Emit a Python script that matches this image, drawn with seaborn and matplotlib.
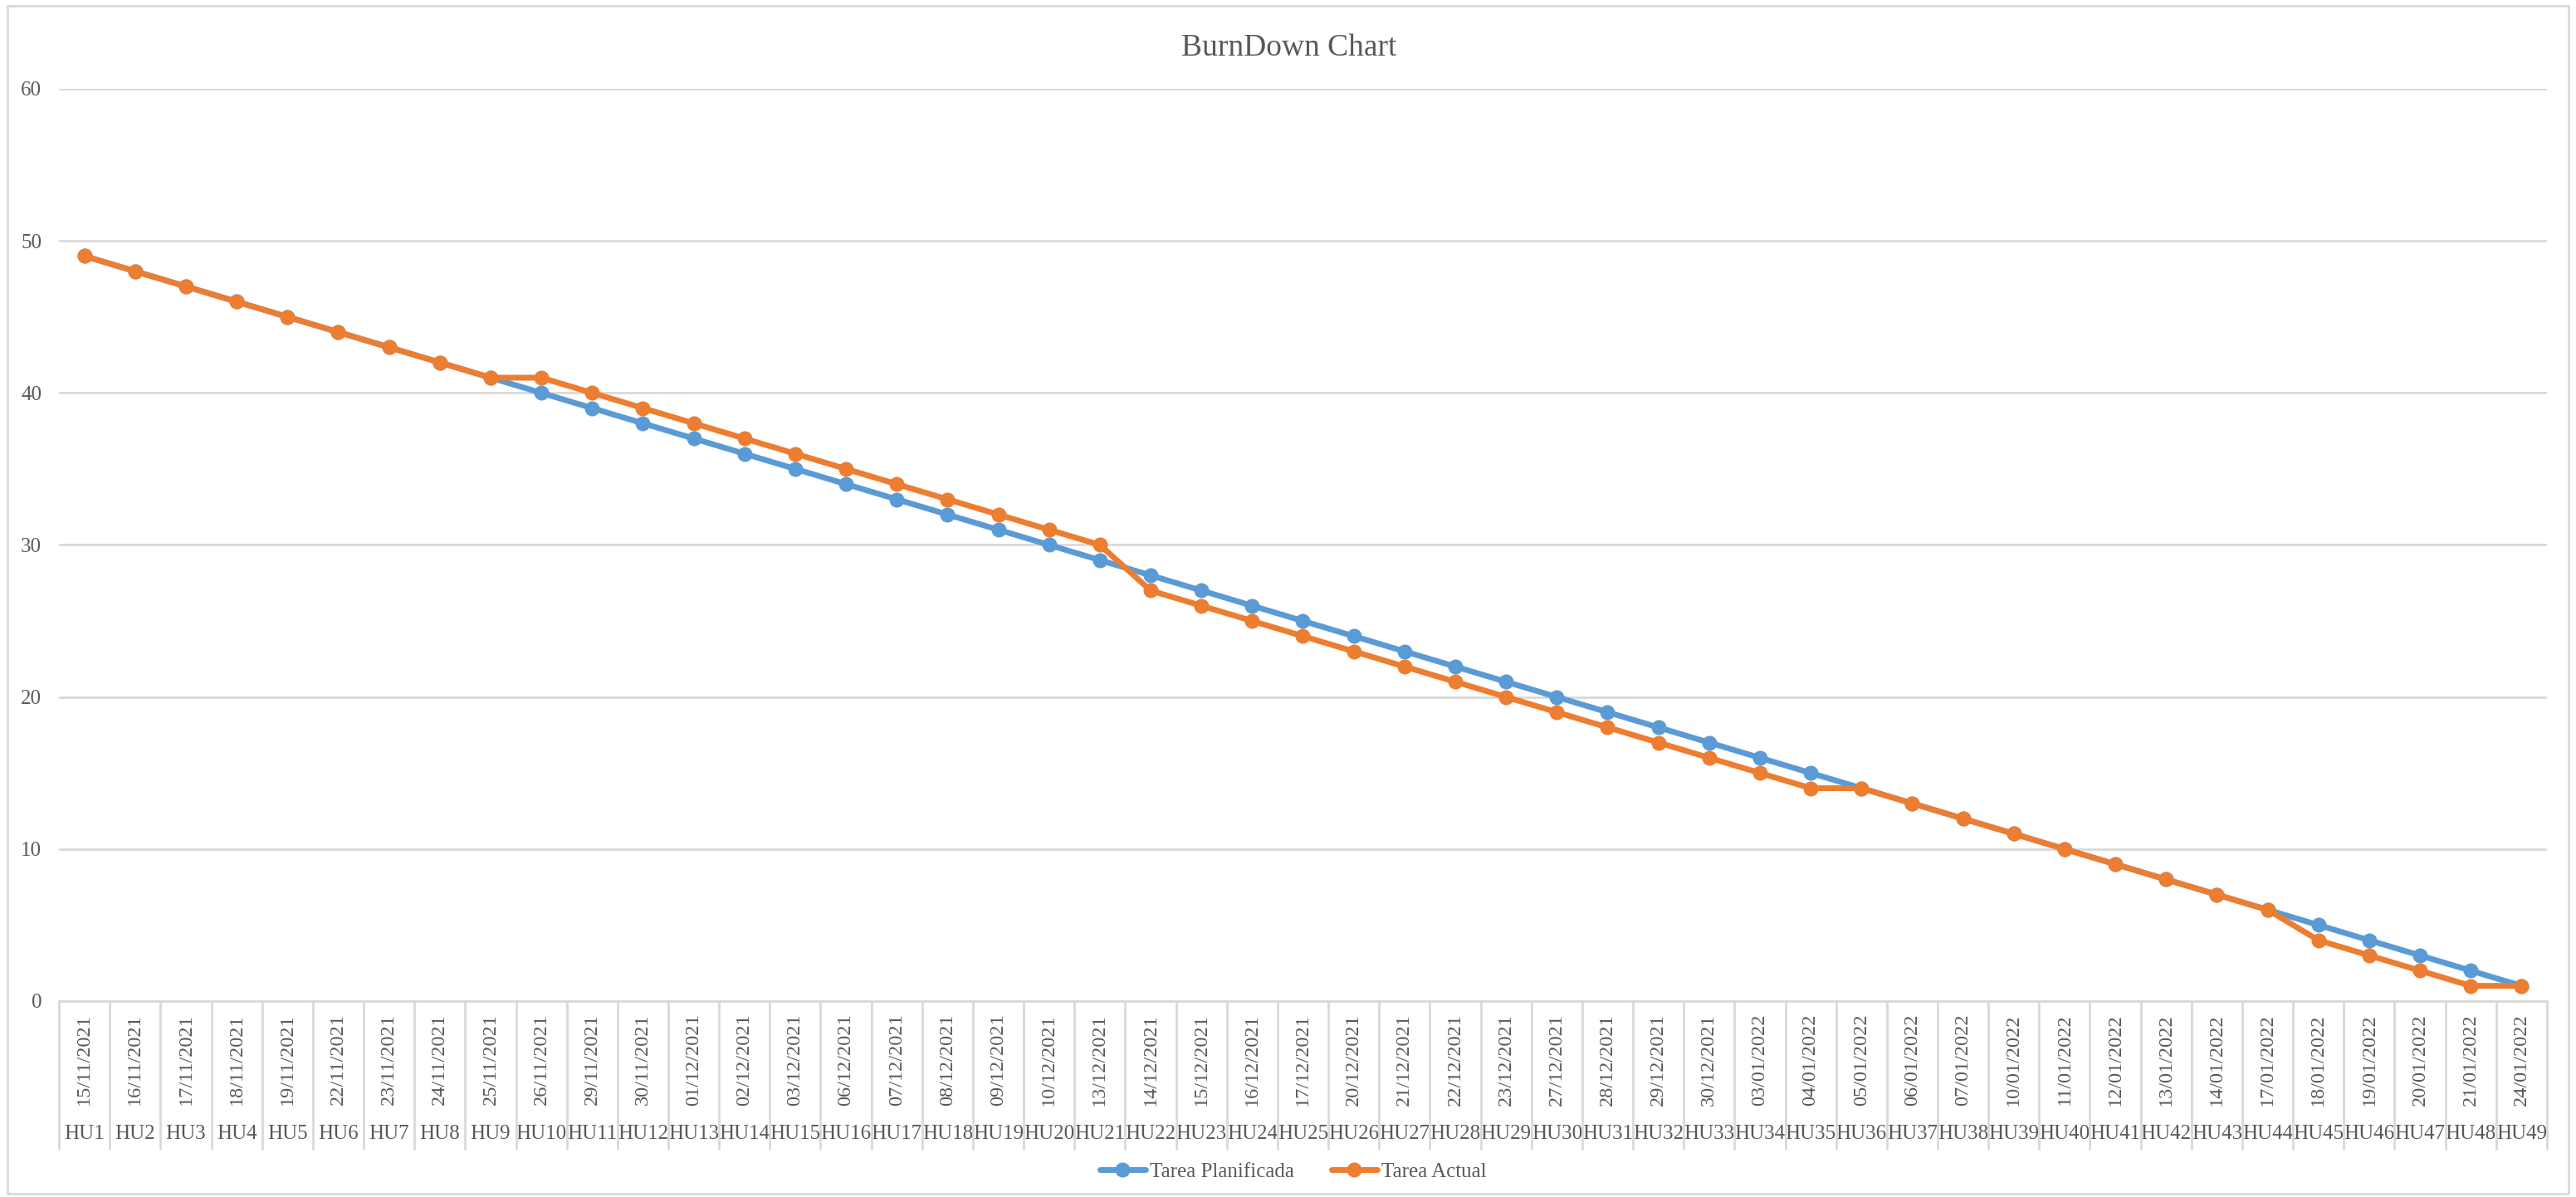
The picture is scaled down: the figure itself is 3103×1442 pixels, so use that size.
import numpy as np
import pandas as pd
import seaborn as sns
import matplotlib.pyplot as plt
from matplotlib.patches import Rectangle
from matplotlib.lines import Line2D

# values
historias = ['HU%d' % i for i in range(1, 50)]
fechas = ['15/11/2021', '16/11/2021', '17/11/2021', '18/11/2021', '19/11/2021',
          '22/11/2021', '23/11/2021', '24/11/2021', '25/11/2021', '26/11/2021',
          '29/11/2021', '30/11/2021', '01/12/2021', '02/12/2021', '03/12/2021',
          '06/12/2021', '07/12/2021', '08/12/2021', '09/12/2021', '10/12/2021',
          '13/12/2021', '14/12/2021', '15/12/2021', '16/12/2021', '17/12/2021',
          '20/12/2021', '21/12/2021', '22/12/2021', '23/12/2021', '27/12/2021',
          '28/12/2021', '29/12/2021', '30/12/2021', '03/01/2022', '04/01/2022',
          '05/01/2022', '06/01/2022', '07/01/2022', '10/01/2022', '11/01/2022',
          '12/01/2022', '13/01/2022', '14/01/2022', '17/01/2022', '18/01/2022',
          '19/01/2022', '20/01/2022', '21/01/2022', '24/01/2022']
planificada = [49, 48, 47, 46, 45, 44, 43, 42, 41, 40, 39, 38, 37, 36, 35, 34, 33,
               32, 31, 30, 29, 28, 27, 26, 25, 24, 23, 22, 21, 20, 19, 18, 17, 16,
               15, 14, 13, 12, 11, 10, 9, 8, 7, 6, 5, 4, 3, 2, 1]
actual = [49, 48, 47, 46, 45, 44, 43, 42, 41, 41, 40, 39, 38, 37, 36, 35, 34,
          33, 32, 31, 30, 27, 26, 25, 24, 23, 22, 21, 20, 19, 18, 17, 16, 15,
          14, 14, 13, 12, 11, 10, 9, 8, 7, 6, 4, 3, 2, 1, 1]

series = ['Tarea Planificada', 'Tarea Actual']
colores = ['#5B9BD5', '#ED7D31']

n = len(historias)
df = pd.DataFrame({
    'pos': list(range(n)) * 2,
    'valor': planificada + actual,
    'serie': [series[0]] * n + [series[1]] * n,
})

sns.set_theme(style='white')
plt.rcParams['font.family'] = ['Liberation Serif', 'DejaVu Serif']
gris = '#595959'
linea_gris = '#D9D9D9'

fig = plt.figure(figsize=(31.03, 14.42), dpi=100)
ax = fig.add_axes([0.0229, 0.1637, 0.9658, 0.7621])

sns.lineplot(data=df, x='pos', y='valor', hue='serie', hue_order=series,
             palette=colores, marker='o', markersize=13, markeredgewidth=0,
             linewidth=5, legend=False, ax=ax)

ax.set_xlim(-0.5, n - 0.5)
ax.set_ylim(0, 60)
ax.set_yticks(range(0, 61, 10))
ax.grid(axis='y', color=linea_gris, linewidth=2)
ax.set_axisbelow(True)
for s in ['left', 'right', 'top']:
    ax.spines[s].set_visible(False)
ax.spines['bottom'].set_color(linea_gris)
ax.spines['bottom'].set_linewidth(2)

ax.tick_params(axis='y', length=0, pad=15, labelsize=18, labelcolor=gris)

# two-level category axis: dates (rotated) above the story ids
ax.set_xticks(range(n))
ax.set_xticklabels(fechas, rotation=90)
ax.set_xticks(range(n), minor=True)
ax.set_xticklabels(historias, minor=True)
ax.xaxis.remove_overlapping_locs = False
ax.tick_params(axis='x', which='major', length=0, pad=11, labelsize=17.5, labelcolor=gris)
ax.tick_params(axis='x', which='minor', length=0, pad=107, labelsize=18, labelcolor=gris)
ax.set_xlabel('')
ax.set_ylabel('')

# separators between categories
ax.vlines(np.arange(-0.5, n), -0.163, 0, transform=ax.get_xaxis_transform(),
          color=linea_gris, linewidth=2, clip_on=False)

ax.set_title('BurnDown Chart', fontsize=27, color=gris, pad=29, x=0.4945)

handles = [Line2D([], [], color=c, marker='o', markersize=13, markeredgewidth=0,
                  linewidth=5) for c in colores]
fig.legend(handles, series, loc='center', bbox_to_anchor=(0.502, 0.021), ncol=2,
           frameon=False, fontsize=18, labelcolor=gris, handlelength=2.2,
           handletextpad=0.2, columnspacing=1.8)

fig.patches.append(Rectangle((0.003, 0.003), 0.994, 0.992, transform=fig.transFigure,
                             fill=False, edgecolor=linea_gris, linewidth=2))

plt.savefig('out.png', dpi=100)
